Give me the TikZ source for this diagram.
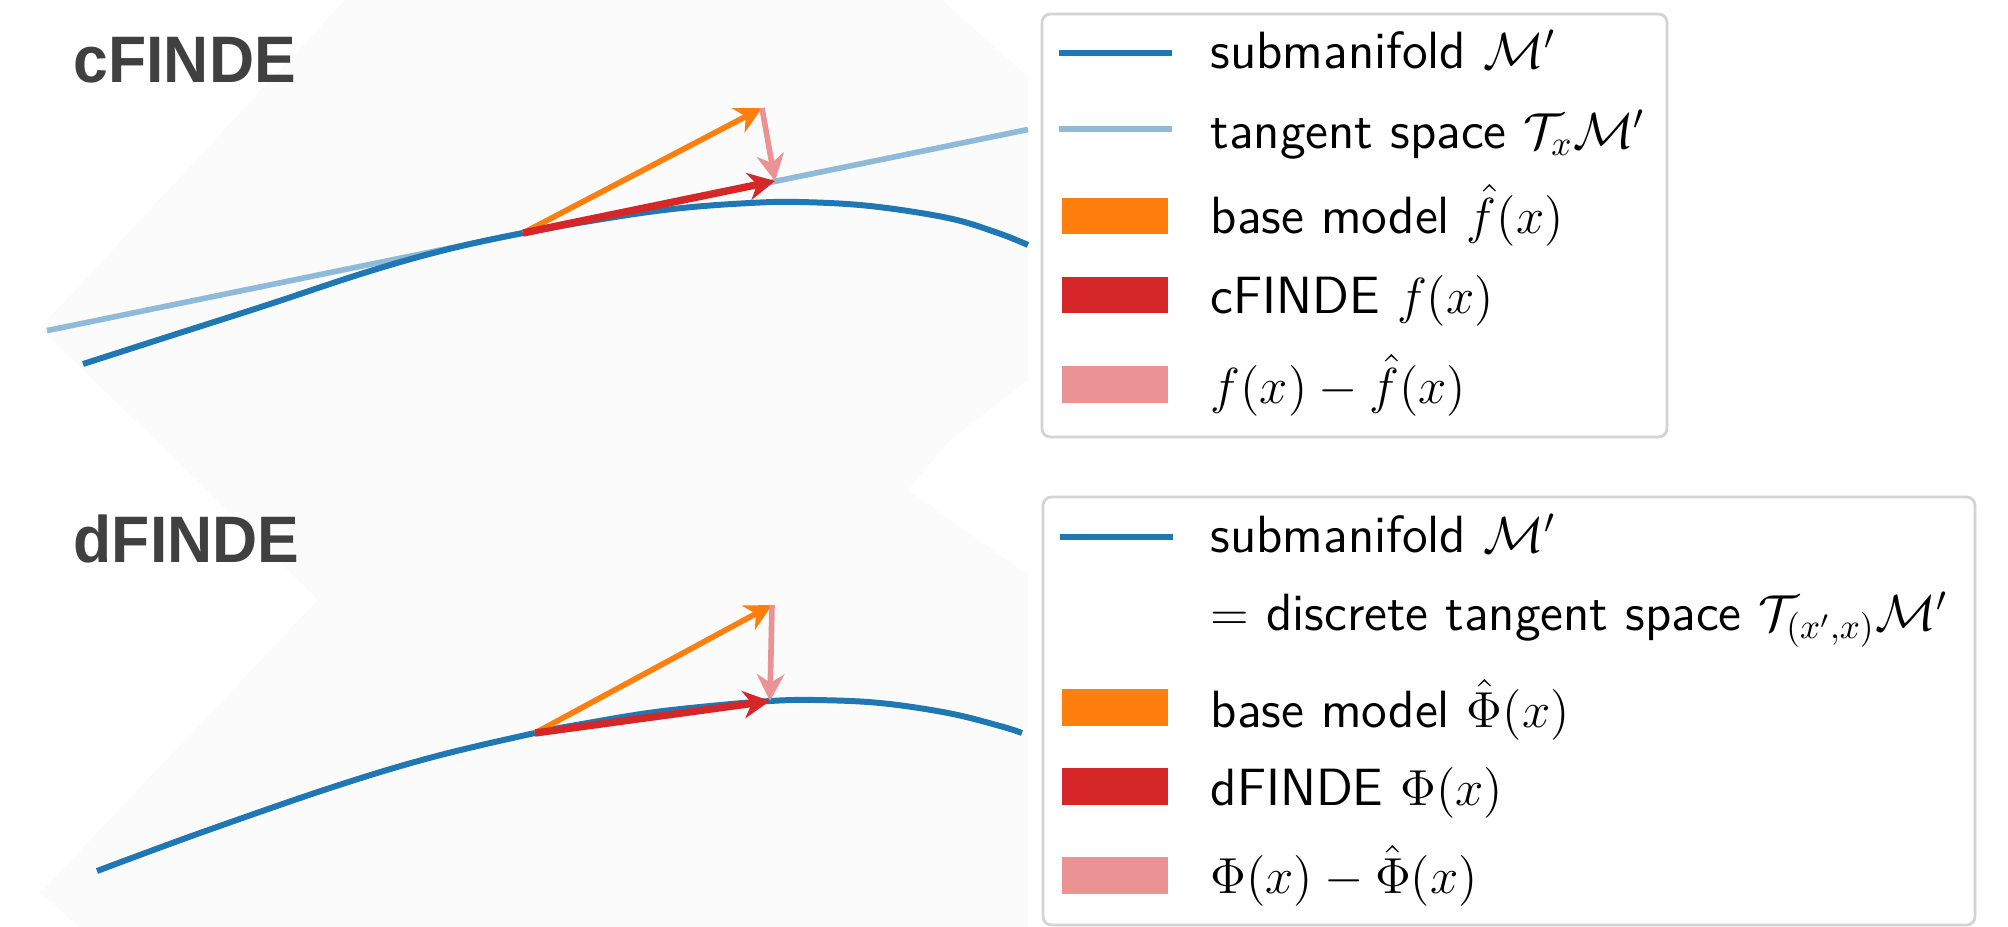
\documentclass[tikz,border=0pt]{standalone}
\usepackage{fontspec}
\newfontfamily\titlefont{Liberation Sans}
\usetikzlibrary{arrows.meta}

\definecolor{tabblue}{HTML}{1F77B4}
\definecolor{lightblue}{HTML}{8FBBD9}
\definecolor{taborange}{HTML}{FF7F0E}
\definecolor{tabred}{HTML}{D62728}
\definecolor{palered}{HTML}{EA9294}
\definecolor{titlegray}{HTML}{404040}
\definecolor{framegray}{HTML}{D4D4D4}
\definecolor{panelbg}{HTML}{FBFBFB}

\begin{document}
\begin{tikzpicture}[x=0.01cm,y=-0.01cm,
  manifold/.style={tabblue, line width=1.7pt},
  tangentline/.style={lightblue, line width=1.6pt},
  vec/.style={line width=1.6pt, -{Stealth[length=7.6pt,width=7.8pt,inset=2.4pt]}},
  basevec/.style={vec, taborange},
  corrvec/.style={vec, tabred, line width=2.1pt},
  diffvec/.style={vec, palered},
  legendbox/.style={draw=framegray, line width=0.8pt, fill=white, rounded corners=2.4pt},
  legline/.style={line width=1.9pt},
  legtext/.style={anchor=base west, inner sep=0pt, font=\fontsize{14.9}{18}\selectfont\sffamily},
  paneltitle/.style={anchor=base west, inner sep=0pt, text=titlegray, xscale=0.95,
    font=\titlefont\fontsize{18.7}{22}\selectfont\bfseries}]

% canvas
\useasboundingbox (0,0) rectangle (2008,927);
\fill[white] (0,0) rectangle (2008,927);

% faint backdrop behind both plots
\fill[panelbg] (345,0) -- (942,0) -- (1028,77) -- (1028,380) -- (950,440) -- (908,490)
  -- (1028,575) -- (1028,927) -- (80,927) -- (40,893) -- (318,600) -- (176,460)
  -- (40,328) -- cycle;

% ---------- continuous version ----------
\node[paneltitle] (ctitle) at (73,82) {cFINDE};

\coordinate (cT) at (523,233);
\coordinate (cO) at (762,108);
\coordinate (cR) at (775,181);
\coordinate (cL) at (47,330.6);
\coordinate (cE) at (1028,129.5);

\draw[tangentline] (cL) -- (cE);
\draw[manifold] plot[smooth, tension=0.6] coordinates {
  (83,364) (167,337) (267,305) (367,272) (445,250) (523,233) (615,217)
  (682,208) (750,203) (800,202) (870,206) (948,218) (998,233) (1028,245)};

\draw[basevec] (cT) -- (cO);
\draw[corrvec] (cT) -- (cR);
\draw[diffvec] (cO) -- (cR);

% legend of the continuous version
\draw[legendbox] (1042,14) rectangle (1667,437);
\draw[legline, tabblue] (1059,53) -- (1172,53);
\draw[legline, lightblue] (1059,129) -- (1172,129);
\fill[taborange] (1062,198) rectangle (1168,234);
\fill[tabred] (1062,277) rectangle (1168,313);
\fill[palered] (1062,366) rectangle (1168,403);
\node[legtext] (lc1) at (1210,68) {submanifold $\mathcal{M}'$};
\node[legtext] (lc2) at (1210,148) {tangent space $\mathcal{T}_x\mathcal{M}'$};
\node[legtext] (lc3) at (1210,233) {base model $\hat{f}(x)$};
\node[legtext] (lc4) at (1210,313) {cFINDE $f(x)$};
\node[legtext] (lc5) at (1210,403) {$f(x) - \hat{f}(x)$};

% ---------- discrete version ----------
\node[paneltitle] (dtitle) at (73,562) {dFINDE};

\coordinate (dT) at (535,733);
\coordinate (dO) at (772,605);
\coordinate (dR) at (770,701);

\draw[manifold] plot[smooth, tension=0.6] coordinates {
  (97,871) (200,833) (333,787) (433,757) (535,733) (582,724) (648,713)
  (710,706) (770,701) (815,700) (880,703) (948,713) (1000,726) (1022,733)};

\draw[basevec] (dT) -- (dO);
\draw[corrvec] (dT) -- (dR);
\draw[diffvec] (dO) -- (dR);

% legend of the discrete version
\draw[legendbox] (1043,497) rectangle (1975,925);
\draw[legline, tabblue] (1060,537) -- (1173,537);
\fill[taborange] (1062,689) rectangle (1168,726);
\fill[tabred] (1062,768) rectangle (1168,805);
\fill[palered] (1062,857) rectangle (1168,894);
\node[legtext] (ld1) at (1210,552) {submanifold $\mathcal{M}'$};
\node[legtext] (ld2) at (1210,630) {$=$ discrete tangent space $\mathcal{T}_{(x',x)}\mathcal{M}'$};
\node[legtext] (ld3) at (1210,727) {base model $\hat{\Phi}(x)$};
\node[legtext] (ld4) at (1210,805) {dFINDE $\Phi(x)$};
\node[legtext] (ld5) at (1210,893) {$\Phi(x) - \hat{\Phi}(x)$};
\end{tikzpicture}
\end{document}
